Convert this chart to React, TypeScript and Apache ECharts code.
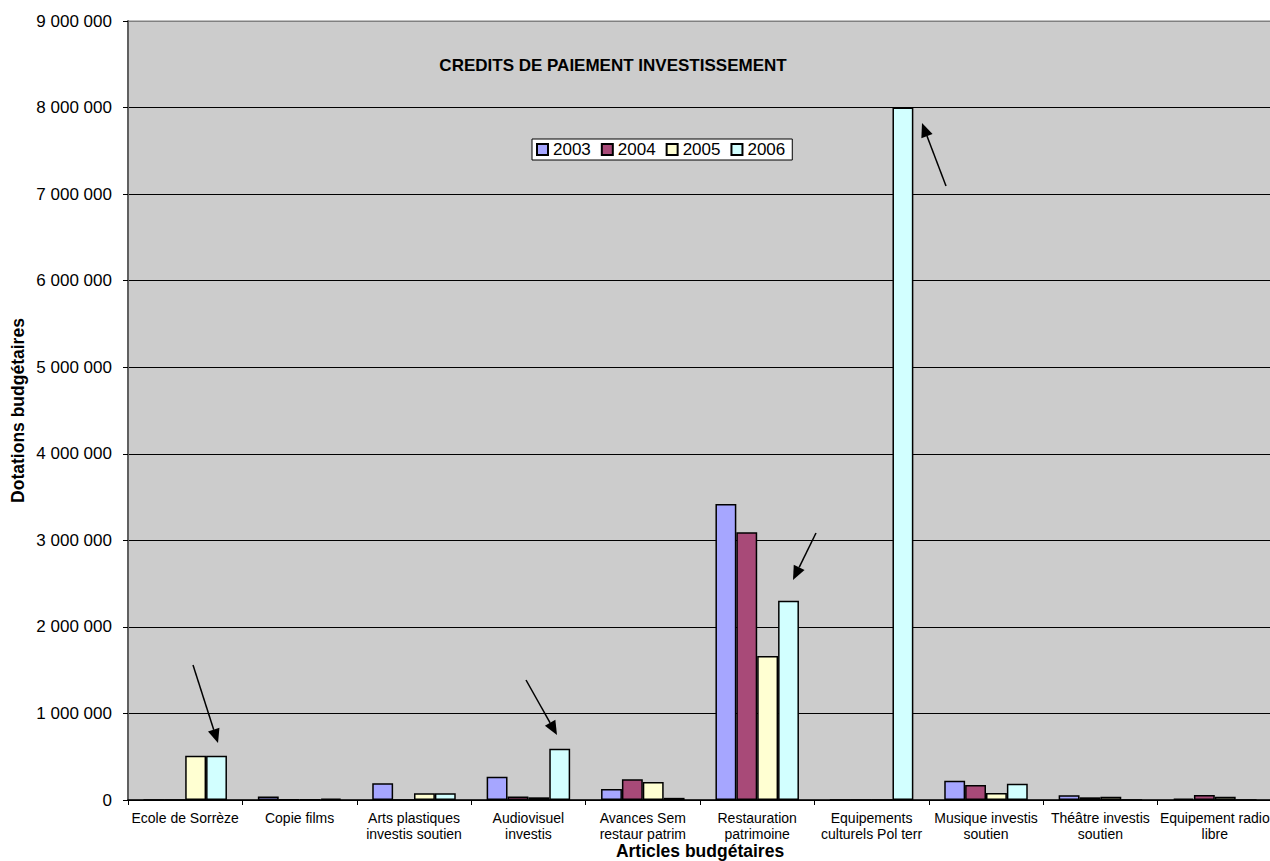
import React, { useEffect, useRef } from "react";
import * as echarts from "echarts";

const categories = [
  "Ecole de Sorrèze",
  "Copie films",
  "Arts plastiques\ninvestis soutien",
  "Audiovisuel\ninvestis",
  "Avances Sem\nrestaur patrim",
  "Restauration\npatrimoine",
  "Equipements\nculturels Pol terr",
  "Musique investis\nsoutien",
  "Théâtre investis\nsoutien",
  "Equipement radio\nlibre",
];

const years = ["2003", "2004", "2005", "2006"];

const values2003 = [0, 40000, 193000, 270000, 127000, 3420000, 0, 223000, 54000, 15000];
const values2004 = [0, 8000, 0, 40000, 239000, 3093000, 0, 173000, 31000, 58000];
const values2005 = [510000, 5000, 78000, 31000, 208000, 1664000, 0, 81000, 38000, 38000];
const values2006 = [512000, 15000, 78000, 593000, 25000, 2302000, 8000000, 189000, 0, 0];

const yearColors = ["#a6a6ff", "#a84a78", "#ffffd2", "#d2ffff"];

const yMin = 0;
const yMax = 9000000;
const yInterval = 1000000;

const chartTitle = "CREDITS DE PAIEMENT INVESTISSEMENT";
const yName = "Dotations budgétaires";
const xName = "Articles budgétaires";

// annotation arrows (start -> tip), in page pixels
const arrows: [number, number, number, number][] = [
  [193, 665, 218, 743],
  [526, 680, 557, 735],
  [816, 533, 793, 580],
  [946, 186, 922, 123],
];

const FONT = "'Liberation Sans', Arial, sans-serif";

function arrowGraphics() {
  const els: any[] = [];
  arrows.forEach(([x1, y1, x2, y2]) => {
    const dx = x2 - x1;
    const dy = y2 - y1;
    const len = Math.sqrt(dx * dx + dy * dy);
    const ux = dx / len;
    const uy = dy / len;
    const hl = 14;
    const hw = 6;
    const bx = x2 - ux * hl;
    const by = y2 - uy * hl;
    els.push({
      type: "line",
      shape: { x1, y1, x2: bx, y2: by },
      style: { stroke: "#000", lineWidth: 1.5 },
      z: 100,
    });
    els.push({
      type: "polygon",
      shape: {
        points: [
          [x2, y2],
          [bx - uy * hw, by + ux * hw],
          [bx + uy * hw, by - ux * hw],
        ],
      },
      style: { fill: "#000" },
      z: 100,
    });
  });
  return els;
}

const fmt = (v: number) => String(v).replace(/\B(?=(\d{3})+(?!\d))/g, " ");

export default function App() {
  const ref = useRef<HTMLDivElement>(null);
  useEffect(() => {
    document.body.style.margin = "0";
    const chart = echarts.init(ref.current!, null, { renderer: "svg" });
    const seriesData = [values2003, values2004, values2005, values2006];
    const splitColors = Array.from({ length: 10 }, (_, i) => (i === 9 ? "#808080" : "#000000"));
    chart.setOption({
      animation: false,
      backgroundColor: "#ffffff",
      textStyle: { fontFamily: FONT },
      grid: {
        left: 128,
        top: 21,
        width: 1144,
        height: 779,
        show: true,
        backgroundColor: "#cccccc",
        borderColor: "#808080",
        borderWidth: 1,
        containLabel: false,
        outerBoundsMode: "none",
      },
      legend: {
        show: true,
        left: 532,
        top: 139,
        orient: "horizontal",
        backgroundColor: "#ffffff",
        borderColor: "#000000",
        borderWidth: 1,
        borderRadius: 0,
        padding: [2, 7, 2, 4],
        itemWidth: 11,
        itemHeight: 11,
        itemGap: 10,
        icon: "rect",
        textStyle: { fontSize: 17, color: "#000", fontFamily: FONT },
        data: years,
      },
      xAxis: {
        type: "category",
        data: categories,
        name: xName,
        nameLocation: "middle",
        nameGap: 42,
        nameMoveOverlap: false,
        nameTextStyle: { fontSize: 17.5, fontWeight: "bold", color: "#000", fontFamily: FONT },
        axisLine: { show: true, lineStyle: { color: "#000", width: 1.5 } },
        axisTick: { show: true, length: 5, inside: false, lineStyle: { color: "#000" } },
        axisLabel: {
          interval: 0,
          fontSize: 14,
          lineHeight: 16,
          margin: 10,
          color: "#000",
          fontFamily: FONT,
        },
        splitLine: { show: false },
      },
      yAxis: {
        type: "value",
        min: yMin,
        max: yMax,
        interval: yInterval,
        name: yName,
        nameLocation: "middle",
        nameRotate: 90,
        nameGap: 101,
        nameMoveOverlap: false,
        nameTextStyle: { fontSize: 17.5, fontWeight: "bold", color: "#000", fontFamily: FONT },
        axisLine: { show: true, lineStyle: { color: "#606060", width: 2 } },
        axisTick: { show: true, length: 5, inside: false, lineStyle: { color: "#000" } },
        axisLabel: { fontSize: 17, margin: 16, color: "#000", fontFamily: FONT, formatter: fmt },
        splitLine: { show: true, lineStyle: { color: splitColors, width: 1 } },
      },
      series: years.map((y, i) => ({
        type: "bar",
        name: y,
        data: seriesData[i],
        barGap: "0%",
        barCategoryGap: "27%",
        itemStyle: { color: yearColors[i], borderColor: "#000", borderWidth: 1.5 },
      })),
      graphic: [
        {
          type: "text",
          x: 613,
          y: 65,
          style: {
            text: chartTitle,
            fontSize: 17,
            fontWeight: "bold",
            fill: "#000",
            fontFamily: FONT,
            align: "center",
            verticalAlign: "middle",
          },
          z: 100,
        },
        ...arrowGraphics(),
      ],
    });
    return () => chart.dispose();
  }, []);
  return <div ref={ref} style={{ width: 1270, height: 861 }} />;
}
